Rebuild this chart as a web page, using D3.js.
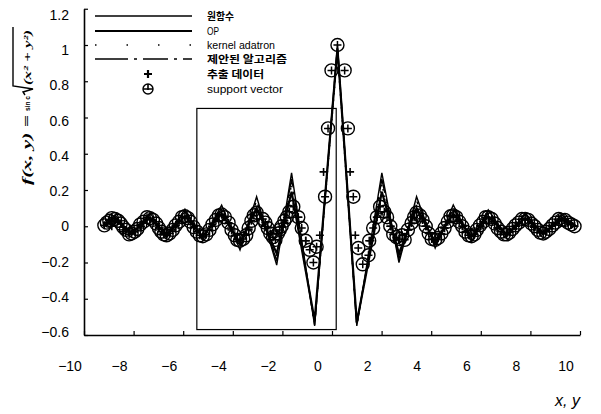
<!DOCTYPE html>
<html>
<head>
<meta charset="utf-8">
<script src="https://cdn.jsdelivr.net/npm/d3@7"></script>
<style>
body { margin: 0; background: #fff; }
</style>
</head>
<body>
<div id="chart"></div>
<script>
// values
const xGrid = [-9.23, -8.75, -8.08, -7.34, -6.67, -5.93, -5.21, -4.45, -3.71, -3.04, -2.23, -1.63, -0.70, 0.22, 1.00, 2.01, 2.70, 3.41, 4.16, 4.89, 5.63, 6.30, 7.04, 7.79, 8.52, 9.26, 9.86]
const yOrig     = [0.00, 0.062, -0.048, 0.075, -0.065, 0.095, -0.076, 0.117, -0.131, 0.163, -0.214, 0.294, -0.55, 1.00, -0.55, 0.294, -0.20, 0.163, -0.12, 0.117, -0.085, 0.09, -0.058, 0.073, -0.048, 0.062, 0.00]
const yOP       = [0.00, 0.035, -0.035, 0.045, -0.045, 0.055, -0.055, 0.07, -0.09, 0.10, -0.15, 0.19, -0.52, 0.98, -0.53, 0.19, -0.15, 0.10, -0.09, 0.07, -0.055, 0.055, -0.045, 0.045, -0.035, 0.035, 0.00]
const yAdatron  = [0.01, 0.045, -0.04, 0.055, -0.05, 0.07, -0.06, 0.085, -0.10, 0.12, -0.17, 0.23, -0.54, 0.96, -0.54, 0.23, -0.17, 0.12, -0.10, 0.085, -0.06, 0.07, -0.05, 0.055, -0.04, 0.045, 0.01]
const yProposed = [0.00, 0.05, -0.045, 0.065, -0.055, 0.08, -0.065, 0.10, -0.115, 0.14, -0.19, 0.26, -0.545, 0.99, -0.545, 0.26, -0.18, 0.14, -0.11, 0.10, -0.07, 0.08, -0.055, 0.065, -0.045, 0.05, 0.00]

// support vectors (circled)
const svX = [-9.18, -9.08, -8.98, -8.88, -8.75, -8.62, -8.52, -8.42, -8.31, -8.18, -8.08, -7.96, -7.85, -7.73, -7.60, -7.46, -7.34, -7.22, -7.09, -6.98, -6.88, -6.78, -6.67, -6.55, -6.42, -6.30, -6.17, -6.05, -5.93, -5.81, -5.71, -5.58, -5.45, -5.33, -5.21, -5.07, -4.94, -4.82, -4.68, -4.56, -4.45, -4.32, -4.17, -4.05, -3.92, -3.82, -3.71, -3.58, -3.46, -3.36, -3.25, -3.15, -3.04,
  -2.79, -2.69, -2.59, -2.49, -2.38, -2.28, -2.18, -2.11, -2.03, -1.92, -1.82, -1.72, -1.56, -1.36, -1.22, -1.06, -0.90, -0.75, -0.62, -0.28, -0.16, -0.02, 0.22, 0.51, 0.64, 0.86, 1.06, 1.24, 1.47, 1.50, 1.66, 1.81, 1.94, 2.11, 2.22, 2.35, 2.47, 2.60, 2.73, 2.83, 2.93, 3.06, 3.21, 3.31, 3.41,
  3.54, 3.65, 3.78, 3.90, 4.02, 4.16, 4.28, 4.41, 4.54, 4.67, 4.78, 4.89, 5.01, 5.13, 5.25, 5.38, 5.51, 5.63, 5.74, 5.84, 5.97, 6.10, 6.20, 6.30, 6.44, 6.56, 6.68, 6.82, 6.93, 7.04, 7.15, 7.28, 7.40, 7.53, 7.66, 7.79, 7.91, 8.04, 8.17, 8.30, 8.40, 8.52, 8.62, 8.76, 8.89, 9.01, 9.14, 9.26, 9.39, 9.52, 9.65, 9.78]
const svY = [0.005, 0.02, 0.03, 0.045, 0.04, 0.03, 0.015, -0.005, -0.02, -0.045, -0.04, -0.03, -0.015, 0.01, 0.025, 0.05, 0.045, 0.035, 0.015, -0.01, -0.03, -0.045, -0.05, -0.04, -0.02, 0.005, 0.025, 0.05, 0.055, 0.045, 0.025, -0.005, -0.03, -0.05, -0.055, -0.045, -0.02, 0.01, 0.035, 0.06, 0.065, 0.05, 0.02, -0.02, -0.05, -0.075, -0.08, -0.07, -0.05, -0.01, 0.03, 0.06, 0.075,
  0.04, 0.02, -0.01, -0.04, -0.06, -0.075, -0.04, -0.02, 0.0, 0.03, 0.05, 0.08, 0.108, 0.05, -0.01, -0.08, -0.13, -0.2, -0.113, 0.163, 0.54, 0.86, 1.0, 0.86, 0.54, 0.163, -0.12, -0.21, -0.16, -0.08, -0.01, 0.05, 0.108, 0.08, 0.05, 0.0, -0.045, -0.06, -0.07, -0.05, -0.075, -0.02, 0.018, 0.05, 0.075,
  0.06, 0.035, 0.0, -0.04, -0.07, -0.075, -0.065, -0.04, -0.01, 0.025, 0.055, 0.06, 0.05, 0.025, 0.0, -0.03, -0.05, -0.055, -0.045, -0.02, 0.005, 0.025, 0.05, 0.05, 0.04, 0.015, -0.01, -0.03, -0.045, -0.045, -0.035, -0.015, 0.005, 0.02, 0.04, 0.04, 0.035, 0.015, 0.0, -0.02, -0.035, -0.04, -0.03, -0.015, 0.005, 0.02, 0.04, 0.035, 0.035, 0.02, 0.01, 0.0]

// extracted data (crosses)
const dataX = [-8.88, -8.42, -7.70, -6.98, -6.32, -5.55, -4.84, -4.07, -3.36, -2.69, -1.92, -1.36, -1.06, -0.49, -0.34, 0.73, 0.94, 1.55, 1.81, 2.37, 3.08, 3.80, 4.52, 5.28, 6.00, 6.66, 7.43, 8.14, 8.86, 9.63]
const dataY = [0.0, -0.03, 0.0, -0.01, 0.0, 0.0, 0.0, -0.01, -0.02, 0.0, 0.02, 0.05, -0.08, -0.05, 0.3, 0.3, -0.05, -0.08, 0.05, 0.0, -0.02, 0.0, -0.01, 0.0, 0.0, -0.01, 0.0, -0.005, 0.0, 0.01]

const xTicks = [-10, -8, -6, -4, -2, 0, 2, 4, 6, 8, 10]
const yTicks = [-0.6, -0.4, -0.2, 0, 0.2, 0.4, 0.6, 0.8, 1, 1.2]
const boxX = [-5.45, 0.17]
const boxY = [-0.57, 0.65]
const legendLabels = ['원함수', 'OP', 'kernel adatron', '제안된 알고리즘', '추출 데이터', 'support vector']
const legendWidths = [27, 12, 68, 80, 57, 76]

init()

function init(){
    const W = 601, H = 414

    let svg = d3.select('#chart')
                .append('svg')
                .attr('width', W)
                .attr('height', H)
                .style('font-family', '"Liberation Sans", Arial, sans-serif')

    const x = d3.scaleLinear().domain([-10, 10]).range([84, 580])
    const y = d3.scaleLinear().domain([-0.6, 1.2]).range([335, 8.75])
    // tick labels in the scan sit a little off their ticks
    const xLab = d3.scaleLinear().domain([-10, 10]).range([70, 566])
    const yLab = d3.scaleLinear().domain([-0.6, 1.2]).range([332, 15])

    const fmt = d => d < 0 ? '\u2212' + Math.abs(d) : String(d)

    // axes, ticks pointing inward
    svg.append('g')
        .attr('transform', `translate(0,${y(-0.6)})`)
        .call(d3.axisBottom(x).tickValues(xTicks).tickSize(-4).tickSizeOuter(0).tickFormat(''))
    svg.append('g')
        .attr('transform', `translate(${x(-10)},0)`)
        .call(d3.axisLeft(y).tickValues(yTicks).tickSize(-4).tickSizeOuter(0).tickFormat(''))
    svg.selectAll('.domain').attr('stroke', '#000').attr('stroke-width', 1.6)
    svg.selectAll('.tick line').attr('stroke', '#000').attr('stroke-width', 1.2)

    svg.append('g').selectAll('text')
        .data(xTicks)
        .join('text')
        .attr('x', d => xLab(d))
        .attr('y', 371)
        .attr('text-anchor', 'middle')
        .style('font-size', '14px')
        .text(fmt)

    svg.append('g').selectAll('text')
        .data(yTicks)
        .join('text')
        .attr('x', 69)
        .attr('y', d => yLab(d) + 5)
        .attr('text-anchor', 'end')
        .style('font-size', '14px')
        .text(fmt)

    svg.append('text')
        .attr('x', 580)
        .attr('y', 406)
        .attr('text-anchor', 'end')
        .style('font-size', '16px')
        .style('font-style', 'italic')
        .text('x, y')

    // y axis title
    let yt = svg.append('g').attr('transform', 'translate(31,185) rotate(-90)')
    yt.append('text')
        .attr('x', 0).attr('y', 0)
        .attr('textLength', 70).attr('lengthAdjust', 'spacingAndGlyphs')
        .style('font-family', '"Liberation Serif", serif')
        .style('font-style', 'italic').style('font-weight', 'bold')
        .style('font-size', '11.5px')
        .text('f(x, y) =')
    yt.append('text')
        .attr('x', 74).attr('y', -1)
        .attr('textLength', 15).attr('lengthAdjust', 'spacingAndGlyphs')
        .style('font-size', '7px').style('font-weight', 'bold')
        .text('sin c')
    yt.append('path')
        .attr('d', 'M90,-6 L93,-8 L96,2 L99,-18 L158,-18')
        .attr('fill', 'none').attr('stroke', '#000').attr('stroke-width', 1.4)
    yt.append('text')
        .attr('x', 100).attr('y', 0)
        .attr('textLength', 55).attr('lengthAdjust', 'spacingAndGlyphs')
        .style('font-family', '"Liberation Serif", serif')
        .style('font-style', 'italic').style('font-weight', 'bold')
        .style('font-size', '11px')
        .text('(x\u00b2 + y\u00b2)')

    // leftover frame from the scan
    svg.append('rect')
        .attr('x', x(boxX[0]))
        .attr('y', y(boxY[1]))
        .attr('width', x(boxX[1]) - x(boxX[0]))
        .attr('height', y(boxY[0]) - y(boxY[1]))
        .attr('fill', 'none')
        .attr('stroke', '#000')
        .attr('stroke-width', 1.2)

    const idx = d3.range(xGrid.length)
    const series = [
        {vals: yProposed, w: 1.4, dash: '26 6 3 6'},
        {vals: yAdatron,  w: 1.6, dash: '1.5 5'},
        {vals: yOP,       w: 2.2, dash: null},
        {vals: yOrig,     w: 1.4, dash: null}
    ]

    series.forEach(s => {
        const line = d3.line()
            .x(i => x(xGrid[i]))
            .y(i => y(s.vals[i]))
        svg.append('path')
            .attr('d', line(idx))
            .attr('fill', 'none')
            .attr('stroke', '#000')
            .attr('stroke-width', s.w)
            .attr('stroke-dasharray', s.dash)
            .attr('stroke-linejoin', 'miter')
    })

    const plus = 'M-4,0H4M0,-4V4'

    // support vectors
    let sv = svg.append('g').selectAll('g')
        .data(d3.range(svX.length))
        .join('g')
        .attr('transform', i => `translate(${x(svX[i])},${y(svY[i])})`)
    sv.append('circle')
        .attr('r', 6.5)
        .attr('fill', 'none')
        .attr('stroke', '#000')
        .attr('stroke-width', 1.4)
    sv.append('path')
        .attr('d', plus)
        .attr('stroke', '#000')
        .attr('stroke-width', 1.5)

    // extracted data
    svg.append('g').selectAll('path')
        .data(d3.range(dataX.length))
        .join('path')
        .attr('transform', i => `translate(${x(dataX[i])},${y(dataY[i])})`)
        .attr('d', plus)
        .attr('stroke', '#000')
        .attr('stroke-width', 1.6)

    // legend
    const rowY = [16, 31, 45, 59, 74, 89]
    let lg = svg.append('g')
    const lineStyles = [
        {w: 1.3, dash: null},
        {w: 2.2, dash: null},
        {w: 1.5, dash: '1.5 30'},
        {w: 1.3, dash: '33 6 3 6 25 6 3 6'}
    ]
    lineStyles.forEach((s, i) => {
        lg.append('line')
            .attr('x1', 95).attr('x2', 192)
            .attr('y1', rowY[i]).attr('y2', rowY[i])
            .attr('stroke', '#000')
            .attr('stroke-width', s.w)
            .attr('stroke-dasharray', s.dash)
    })
    lg.append('path')
        .attr('transform', `translate(148,${rowY[4]})`)
        .attr('d', plus)
        .attr('stroke', '#000').attr('stroke-width', 2.2)
    lg.append('circle')
        .attr('cx', 148).attr('cy', rowY[5])
        .attr('r', 5)
        .attr('fill', 'none').attr('stroke', '#000').attr('stroke-width', 1.4)
    lg.append('path')
        .attr('transform', `translate(148,${rowY[5]})`)
        .attr('d', 'M-5,0H5M0,-5V1')
        .attr('stroke', '#000').attr('stroke-width', 1.6)

    const korean = i => [0, 3, 4].includes(i)
    lg.selectAll('text')
        .data(legendLabels)
        .join('text')
        .attr('x', 207)
        .attr('y', (d, i) => rowY[i] + 4)
        .attr('textLength', (d, i) => legendWidths[i])
        .attr('lengthAdjust', 'spacingAndGlyphs')
        .style('font-family', (d, i) => korean(i) ? '"Noto Sans CJK KR", sans-serif' : '"Liberation Sans", Arial, sans-serif')
        .style('font-weight', (d, i) => korean(i) ? 'bold' : 'normal')
        .style('font-size', '10.5px')
        .text(d => d)
}
</script>
</body>
</html>
